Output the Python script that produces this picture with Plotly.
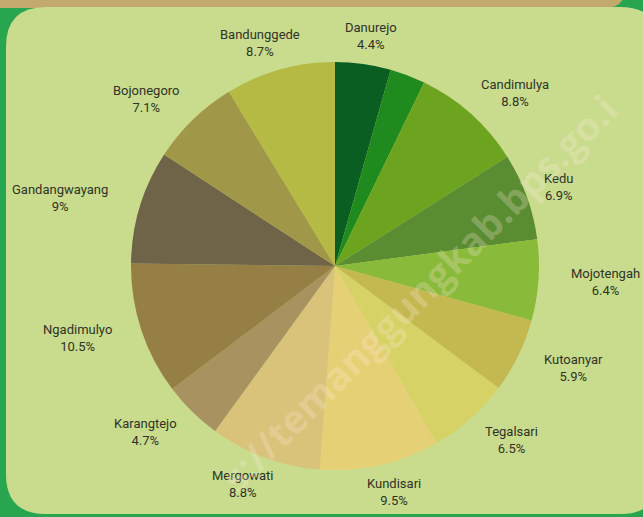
import math

import plotly.graph_objects as go

W, H = 643, 517

# data, clockwise from 12 o'clock
desa = [
    "Danurejo", " ", "Candimulya", "Kedu", "Mojotengah", "Kutoanyar", "Tegalsari",
    "Kundisari", "Mergowati", "Karangtejo", "Ngadimulyo", "Gandangwayang",
    "Bojonegoro", "Bandunggede",
]
persen = [4.4, 2.8, 8.8, 6.9, 6.4, 5.9, 6.5, 9.5, 8.8, 4.7, 10.5, 9.0, 7.1, 8.7]
warna = [
    "#0b5e22", "#1f8a1d", "#6da41f", "#5a8c31", "#8aba3a", "#c4b851", "#d6d265",
    "#e6d075", "#d9c279", "#a8925f", "#957f44", "#6f6447", "#a09749", "#b5ba45",
]

# pie geometry in pixels
cx, cy, rad = 335, 266, 204


def px(x):
    return x / W


def py(y):
    return 1 - y / H


fig = go.Figure(
    go.Pie(
        labels=desa,
        values=persen,
        sort=False,
        direction="clockwise",
        rotation=0,
        textinfo="none",
        hoverinfo="label+percent",
        marker=dict(colors=warna, line=dict(width=0)),
        domain=dict(x=[px(cx - rad), px(cx + rad)], y=[py(cy + rad), py(cy - rad)]),
        showlegend=False,
    )
)

# labels outside each slice
total = sum(persen)
cum = 0
for name, val in zip(desa, persen):
    mid = (cum + val / 2) / total * 2 * math.pi
    cum += val
    if not name.strip():
        continue
    pct = f"{val:g}%"
    ux, uy = math.sin(mid), -math.cos(mid)
    half_w = 5.5 * max(len(name), len(pct))
    half_h = 16
    lx = min(cx + ux * (216 + half_w), W - 38)
    ly = cy + uy * (216 + half_h)
    fig.add_annotation(
        x=px(lx), y=py(ly), xref="paper", yref="paper",
        text=f"{name}<br>{pct}", showarrow=False,
        xanchor="center", yanchor="middle", align="center",
        font=dict(family="Roboto, sans-serif", size=13, color="#2f3327"),
    )

# watermark (the part that shows in the picture)
fig.add_annotation(
    x=px(418), y=py(292), xref="paper", yref="paper",
    text="<b>s://temanggungkab.bps.go.i</b>", showarrow=False,
    textangle=-45,
    font=dict(family="Open Sans, sans-serif", size=39, color="rgba(255,236,222,0.25)"),
)


def rounded(x0, y0, x1, y1, r):
    return (
        f"M {px(x0 + r)} {py(y0)} L {px(x1 - r)} {py(y0)} "
        f"Q {px(x1)} {py(y0)} {px(x1)} {py(y0 + r)} "
        f"L {px(x1)} {py(y1 - r)} Q {px(x1)} {py(y1)} {px(x1 - r)} {py(y1)} "
        f"L {px(x0 + r)} {py(y1)} Q {px(x0)} {py(y1)} {px(x0)} {py(y1 - r)} "
        f"L {px(x0)} {py(y0 + r)} Q {px(x0)} {py(y0)} {px(x0 + r)} {py(y0)} Z"
    )


fig.add_shape(
    type="path", path=rounded(-40, -40, 625, 8, 20), xref="paper", yref="paper",
    fillcolor="#c3a96b", line=dict(width=0), layer="below",
)
fig.add_shape(
    type="path", path=rounded(6, 7, 660, 514, 40), xref="paper", yref="paper",
    fillcolor="#c9dc8d", line=dict(width=0), layer="below",
)

fig.update_layout(
    width=W,
    height=H,
    margin=dict(l=0, r=0, t=0, b=0),
    paper_bgcolor="#27a64f",
    plot_bgcolor="#27a64f",
)

fig.write_html(
    "out.html",
    config={"displayModeBar": False},
    post_script="document.body.style.margin='0';document.body.style.overflow='hidden';",
)
